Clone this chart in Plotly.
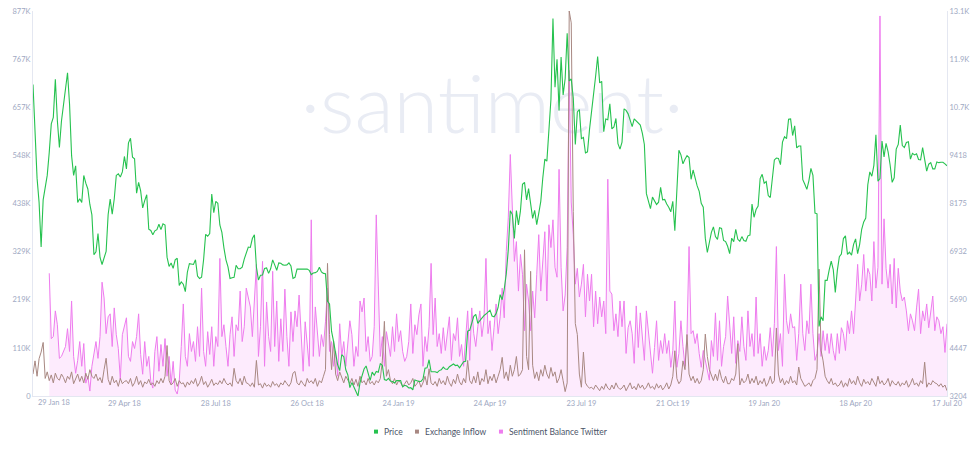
import pandas as pd
import plotly.graph_objects as go

# ---------------- data (2-day sampling, one line per month) ----------------
# BTC price (USD)
price_2018 = (
    [11250, 10220] +
    [8830, 8200, 7050, 8270, 8560, 8900, 9500, 10230, 10400, 11380, 10310, 9620, 10300, 10690] +
    [11020, 11550, 10740, 9410, 8900, 9150, 8200, 8300, 8200, 8900, 8700, 8550, 8150, 7880, 6850] +
    [6930, 7400, 6780, 6600, 6770, 6940, 7890, 8290, 7900, 8290, 8900, 8940, 8860, 8990, 9390] +
    [9070, 9740, 9860, 9370, 9330, 8440, 8720, 8500, 8060, 8250, 8400, 7510, 7480, 7370, 7470, 7500] +
    [7640, 7500, 7650, 7620, 6790, 6550, 6640, 6500, 6720, 6760, 6060, 6150, 6090, 5900, 6400] +
    [6620, 6600, 6600, 6720, 6300, 6240, 6270, 6730, 7380, 7330, 7400, 8420, 7940, 8230, 8180] +
    [7620, 7430, 7030, 6720, 6540, 6240, 6260, 6270, 6580, 6490, 6490, 6530, 6740, 6910, 7050, 7040] +
    [7270, 7370, 6530, 6200, 6320, 6330, 6500, 6510, 6370, 6490, 6720, 6590, 6450, 6640, 6630] +
    [6590, 6580, 6590, 6640, 6560, 6240, 6270, 6480, 6480, 6480, 6490, 6480, 6480, 6450, 6340] +
    [6380, 6390, 6420, 6530, 6410, 6370, 6360, 5650, 5580, 4870, 4610, 4340, 4010, 3860, 4270] +
    [4220, 3880, 3750, 3420, 3550, 3420, 3310, 3204, 3550, 3760, 3900, 3980, 3810, 3610, 3820, 3740]
)
price_2019 = (
    [3840, 3820, 4040, 4000, 3630, 3610, 3660, 3590, 3580, 3540, 3600, 3600, 3600, 3440, 3480] +
    [3460, 3410, 3420, 3360, 3620, 3590, 3580, 3580, 3640, 3920, 3930, 4140, 3830, 3830] +
    [3830, 3810, 3860, 3880, 3950, 3900, 3890, 3960, 4000, 4030, 3990, 4000, 3930, 4030, 4090, 4100] +
    [4880, 4900, 5060, 5260, 5310, 5080, 5150, 5230, 5280, 5320, 5380, 5420, 5270, 5250, 5330] +
    [5490, 5820, 5690, 5960, 6350, 6980, 7990, 7890, 7270, 7990, 7620, 7990, 8670, 8720, 8270] +
    [8560, 8210, 7790, 8000, 7630, 7920, 8230, 8840, 9320, 9270, 10140, 10860, 12950, 11180, 11900] +
    [10580, 11960, 10980, 11400, 12570, 11340, 11390, 10900, 9700, 10540, 10600, 9850, 9880, 9480, 9510, 10090] +
    [10520, 10980, 11460, 11970, 11290, 11330, 10030, 10360, 10340, 10750, 10100, 10150, 10370, 9720, 9580] +
    [9760, 10620, 10580, 10490, 10330, 10160, 10360, 10310, 10240, 10200, 9990, 9700, 8430, 8200, 8040] +
    [8340, 8230, 8150, 8210, 8590, 8270, 8280, 8160, 8080, 7960, 8230, 7470, 8660, 9550, 9430, 9200] +
    [9320, 9410, 9360, 8800, 9040, 8820, 8630, 8490, 8180, 8080, 7280, 6910, 7150, 7430, 7570] +
    [7320, 7250, 7550, 7530, 7220, 7190, 7070, 6880, 7280, 7190, 7510, 7250, 7200, 7320, 7220]
)
price_2020 = (
    [7200, 7340, 7360, 8160, 7820, 8020, 8110, 8820, 8930, 8700, 8740, 8380, 8330, 8910, 9300, 9350] +
    [9340, 9180, 9760, 9900, 9850, 10350, 10360, 9930, 10180, 9610, 9660, 9660, 8790, 8670] +
    [8540, 8760, 9080, 8900, 7930, 7910, 5000, 5250, 5150, 6190, 6190, 6460, 6690, 6470, 5880, 6440] +
    [6800, 6870, 7270, 7340, 6860, 6920, 6840, 7120, 7260, 6880, 7120, 7510, 7700, 7800, 8660] +
    [8990, 8880, 9160, 9950, 8750, 8820, 9790, 9380, 9730, 9510, 9170, 8720, 8840, 9580, 9700] +
    [10200, 9670, 9620, 9750, 9770, 9320, 9470, 9430, 9460, 9310, 9300, 9620, 9250, 9010, 9190] +
    [9230, 9070, 9070, 9250, 9230, 9240, 9240, 9200, 9150]
)

# Exchange Inflow (thousands)
inflow_2018 = (
    [50, 80] +
    [45, 85, 100, 122, 40, 55, 35, 48, 30, 52, 40, 36, 50, 42] +
    [30, 45, 38, 55, 28, 40, 50, 33, 45, 30, 52, 38, 60, 45, 40] +
    [50, 35, 42, 30, 60, 86, 38, 25, 45, 30, 36, 22, 40, 28, 33] +
    [35, 28, 40, 22, 30, 45, 26, 35, 20, 32, 28, 38, 25, 30, 22, 35] +
    [28, 40, 30, 45, 115, 35, 25, 30, 40, 22, 35, 28, 30, 20, 32] +
    [25, 35, 28, 40, 22, 30, 45, 26, 33, 20, 28, 38, 24, 30, 26] +
    [35, 28, 40, 30, 25, 30, 22, 63, 35, 28, 40, 25, 45, 30, 28, 22] +
    [30, 20, 81, 25, 28, 18, 30, 22, 26, 20, 33, 24, 28, 20, 30] +
    [25, 35, 28, 22, 30, 52, 56, 30, 25, 35, 28, 22, 40, 30, 35] +
    [28, 40, 22, 35, 30, 45, 60, 302, 140, 60, 125, 50, 35, 55, 40] +
    [30, 45, 35, 28, 40, 25, 38, 22, 45, 30, 35, 25, 40, 28, 33, 25]
)
inflow_2019 = (
    [35, 30, 40, 80, 170, 45, 60, 35, 28, 40, 25, 35, 30, 22, 28] +
    [35, 25, 30, 40, 22, 28, 35, 20, 30, 45, 25, 62, 30, 25] +
    [33, 22, 40, 28, 35, 25, 45, 30, 22, 38, 28, 50, 32, 25, 40, 30] +
    [81, 35, 28, 45, 30, 55, 25, 40, 33, 60, 28, 45, 35, 50, 30] +
    [45, 60, 88, 40, 55, 35, 70, 45, 60, 90, 45, 50, 60, 333, 90] +
    [60, 284, 70, 40, 55, 35, 60, 45, 70, 50, 40, 65, 45, 55, 30] +
    [40, 60, 35, 10, 30, 877, 850, 420, 165, 140, 50, 20, 100, 30, 22, 18] +
    [20, 15, 25, 18, 12, 22, 15, 28, 18, 14, 25, 16, 30, 20, 15] +
    [18, 25, 12, 20, 30, 16, 22, 14, 28, 18, 25, 15, 20, 30, 18] +
    [22, 15, 28, 18, 25, 14, 20, 30, 16, 25, 45, 103, 40, 28, 35, 80] +
    [60, 140, 50, 35, 45, 30, 40, 28, 35, 60, 141, 90, 60, 45, 35] +
    [50, 35, 60, 40, 30, 45, 28, 28, 40, 35, 50, 119, 25, 40, 30]
)
inflow_2020 = (
    [35, 50, 28, 40, 30, 45, 25, 35, 28, 40, 22, 30, 45, 28, 35, 155] +
    [50, 30, 40, 25, 35, 28, 45, 30, 35, 25, 66, 40, 30, 22] +
    [25, 30, 22, 35, 40, 60, 289, 104, 80, 45, 35, 28, 40, 25, 30, 22] +
    [25, 35, 20, 30, 22, 40, 28, 35, 25, 45, 30, 22, 38, 28, 33] +
    [25, 40, 30, 22, 45, 28, 35, 25, 30, 40, 22, 35, 28, 25, 33] +
    [22, 30, 25, 35, 20, 28, 40, 25, 30, 22, 35, 28, 77, 20, 30] +
    [25, 35, 30, 28, 22, 28, 20, 25, 12]
)

# Sentiment Balance Twitter
sentiment_2018 = (
    [None, None] +
    [None, None, None, None, None, None, 124, 58, 60, 86, 72, 38, 40, 46] +
    [50, 68, 45, 96, 40, 23, 36, 55, 30, 53, 13, 20, 5, 30, 42] +
    [55, 38, 60, 115, 99, 63, 80, 83, 50, 89, 62, 48, 17, 62, 70] +
    [79, 40, 35, 55, 48, 60, 83, 42, 22, 55, 30, 40, 15, 8, 45, 60] +
    [25, 52, 30, 58, 20, 40, 12, 35, 6, 2, 15, 50, 93, 40, 30] +
    [63, 45, 55, 35, 70, 40, 109, 45, 30, 65, 42, 70, 30, 60, 50] +
    [139, 60, 72, 50, 30, 62, 80, 40, 72, 66, 106, 55, 70, 109, 100, 90] +
    [60, 95, 133, 40, 70, 136, 30, 95, 60, 45, 126, 50, 96, 35, 78] +
    [45, 108, 60, 30, 85, 55, 86, 70, 102, 65, 25, 75, 50, 30, 178] +
    [40, 90, 60, 40, 62, 50, 75, 109, 45, 55, 30, 45, 20, 73, 40] +
    [55, 30, 50, 76, 62, 30, 50, 40, 96, 85, 99, 45, 60, 35, 40, 70]
)
sentiment_2019 = (
    [183, 116, 40, 60, 30, 65, 50, 40, 70, 45, 83, 55, 66, 45, 35] +
    [40, 55, 93, 43, 72, 62, 82, 93, 30, 60, 45, 70, 134, 62] +
    [99, 50, 63, 43, 69, 46, 63, 80, 36, 63, 56, 79, 40, 52, 30, 60] +
    [86, 36, 89, 63, 50, 70, 86, 60, 76, 139, 63, 76, 46, 69, 93] +
    [63, 80, 109, 79, 146, 180, 244, 196, 136, 156, 106, 143, 123, 66, 113] +
    [96, 66, 106, 79, 123, 163, 106, 140, 166, 96, 173, 150, 178, 130, 120] +
    [229, 130, 86, 102, 150, 329, 196, 163, 113, 129, 100, 113, 133, 80, 123, 96] +
    [123, 70, 106, 73, 100, 80, 96, 63, 219, 106, 103, 66, 83, 60, 96] +
    [70, 96, 43, 69, 76, 63, 33, 91, 49, 84, 63, 36, 86, 63, 46] +
    [23, 49, 76, 36, 56, 43, 63, 43, 56, 29, 46, 96, 29, 43, 76, 50] +
    [30, 63, 151, 63, 66, 53, 63, 43, 29, 46, 36, 23, 16, 56, 40] +
    [84, 36, 76, 30, 50, 60, 101, 70, 43, 80, 33, 56, 45, 80, 50]
)
sentiment_2020 = (
    [36, 86, 50, 63, 40, 100, 43, 63, 30, 50, 36, 46, 69, 40, 73, 151] +
    [46, 63, 30, 123, 76, 63, 83, 69, 70, 36, 63, 113, 63, 46] +
    [76, 63, 113, 63, 36, 43, 63, 40, 66, 46, 63, 43, 63, 46, 36, 63] +
    [43, 69, 63, 46, 76, 63, 86, 63, 96, 133, 96, 113, 143, 106, 129] +
    [123, 96, 156, 109, 130, 384, 113, 179, 129, 109, 133, 93, 139, 89, 129] +
    [106, 96, 100, 86, 66, 83, 76, 66, 89, 108, 63, 86, 76, 93, 69] +
    [83, 101, 66, 80, 76, 63, 70, 44, 73]
)

year_starts = ["2018-01-29", "2019-01-02", "2020-01-01"]

x_tick_dates = ["2018-04-29", "2018-07-28", "2018-10-26", "2019-01-24", "2019-04-24",
                "2019-07-23", "2019-10-21", "2020-01-19", "2020-04-18", "2020-07-17"]
x_tick_labels = ["29 Apr 18", "28 Jul 18", "26 Oct 18", "24 Jan 19", "24 Apr 19",
                 "23 Jul 19", "21 Oct 19", "19 Jan 20", "18 Apr 20", "17 Jul 20"]
first_x_label = ("2018-01-29", "29 Jan 18")

inflow_ticks = ["0", "110K", "219K", "329K", "438K", "548K", "657K", "767K", "877K"]
price_ticks = ["3204", "4447", "5690", "6932", "8175", "9418", "10.7K", "11.9K", "13.1K"]
inflow_range = [0, 877]
price_range = [3204, 13146]
sentiment_range = [0, 389]

names = ["Price", "Exchange Inflow", "Sentiment Balance Twitter"]
colors = ["#26c24f", "#a88882", "#ee7cee"]


def build(chunks):
    xs, ys = [], []
    for start, vals in zip(year_starts, chunks):
        xs += list(pd.date_range(start, periods=len(vals), freq="2D"))
        ys += vals
    return xs, ys


px_, py_ = build([price_2018, price_2019, price_2020])
ix_, iy_ = build([inflow_2018, inflow_2019, inflow_2020])
sx_, sy_ = build([sentiment_2018, sentiment_2019, sentiment_2020])

fig = go.Figure()

# watermark (drawn first, beneath data)
fig.add_trace(go.Scatter(
    x=[pd.Timestamp("2019-04-26")], y=[0.735], mode="text", text=["·santiment·"],
    textfont=dict(family="Lato", size=81, color="#e9ecf4", weight=300),
    hoverinfo="skip", showlegend=False, yaxis="y", cliponaxis=False))

fig.add_trace(go.Scatter(
    x=sx_, y=sy_, name=names[2], mode="lines", yaxis="y2",
    line=dict(color=colors[2], width=1), fill="tozeroy",
    fillcolor="rgba(240,130,240,0.16)", connectgaps=False, showlegend=False))
fig.add_trace(go.Scatter(
    x=ix_, y=iy_, name=names[1], mode="lines", yaxis="y3",
    line=dict(color=colors[1], width=1), showlegend=False))
fig.add_trace(go.Scatter(
    x=px_, y=py_, name=names[0], mode="lines", yaxis="y4",
    line=dict(color=colors[0], width=1.1), showlegend=False))

tick_font = dict(family="Lato", size=7.5, color="#9ea8c2")
axis_line = "#e4e7f1"

def even_ticks(rng, n):
    return [rng[0] + i * (rng[1] - rng[0]) / (n - 1) for i in range(n)]

fig.update_layout(
    width=980, height=449,
    margin=dict(l=33, r=33, t=7, b=53),
    paper_bgcolor="white", plot_bgcolor="white",
    showlegend=False,
    xaxis=dict(type="date", range=["2018-01-29", "2020-07-17"], showgrid=False,
               zeroline=False, showline=True, linecolor=axis_line, linewidth=1,
               tickvals=x_tick_dates, ticktext=x_tick_labels, ticks="",
               tickfont=tick_font, fixedrange=True),
    yaxis=dict(range=[0, 1], visible=False, fixedrange=True),
    yaxis2=dict(range=sentiment_range, overlaying="y", visible=False),
    yaxis3=dict(range=inflow_range, overlaying="y", side="left",
                tickvals=even_ticks(inflow_range, len(inflow_ticks)), ticktext=inflow_ticks,
                showgrid=False, zeroline=False, showline=True, linecolor=axis_line,
                ticks="", tickfont=tick_font),
    yaxis4=dict(range=price_range, overlaying="y", side="right",
                tickvals=even_ticks(price_range, len(price_ticks)), ticktext=price_ticks,
                showgrid=False, zeroline=False, showline=True, linecolor=axis_line,
                ticks="", tickfont=tick_font),
)

# first x tick label, kept inside the plot edge
fig.add_annotation(x=first_x_label[0], y=-0.018, xref="x", yref="paper",
                   text=first_x_label[1], showarrow=False, xanchor="left",
                   yanchor="middle", xshift=3, font=tick_font)

# legend (square markers + labels)
legend_marker_x = [0.3753, 0.4201, 0.5120]
legend_text_x = [0.3818, 0.4267, 0.5186]
legend_y = -0.0925
for name, col, mx, tx in zip(names, colors, legend_marker_x, legend_text_x):
    fig.add_shape(type="rect", xref="paper", yref="paper",
                  xsizemode="pixel", ysizemode="pixel", xanchor=mx, yanchor=legend_y,
                  x0=-2, x1=2, y0=-2, y1=2, fillcolor=col, line=dict(width=0))
    fig.add_annotation(x=tx, y=legend_y, xref="paper", yref="paper", text=name,
                       showarrow=False, xanchor="left", yanchor="middle",
                       font=dict(family="Lato", size=8.5, color="#4b5468"))

fig.write_html("out.html")
